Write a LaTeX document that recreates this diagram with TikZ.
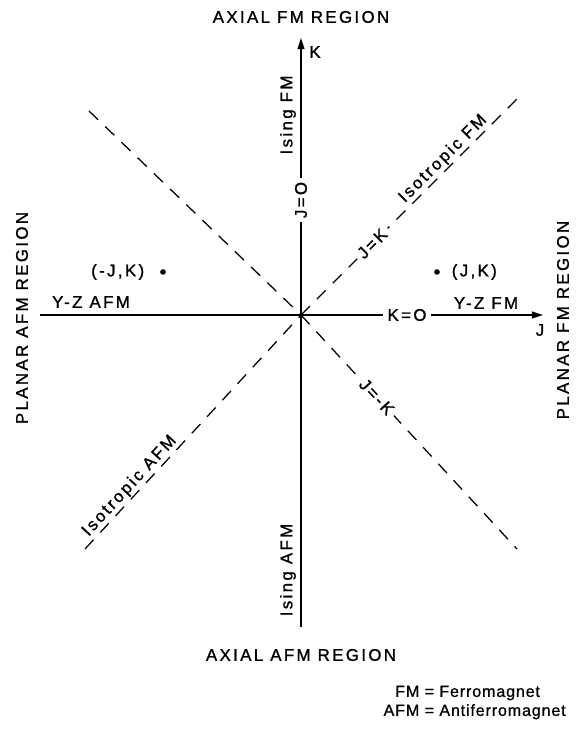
\documentclass[tikz,border=0pt]{standalone}
\usepackage{fontspec}
\setmainfont{Liberation Sans}
\newfontfamily\lettering[LetterSpace=14, FakeBold=1.2]{Liberation Sans}
\newfontfamily\legendfont[LetterSpace=5, FakeBold=0.8]{Liberation Sans}
\usetikzlibrary{arrows.meta, positioning}

\begin{document}
\begin{tikzpicture}[
  region/.style={font=\lettering\fontsize{12}{14}\selectfont},
  lbl/.style={font=\lettering\fontsize{12}{14}\selectfont, inner sep=1pt},
  gap/.style={lbl, fill=white, inner sep=3pt},
  axis/.style={draw=black, line width=1.1pt, -{Triangle[length=8pt,width=5pt]}},
  diag/.style={draw=black, line width=0.9pt, dash pattern=on 9pt off 7pt},
  pt/.style={circle, fill=black, inner sep=0pt, minimum size=4pt},
]
\useasboundingbox (-7.525,-10.75) rectangle (6.95,7.875);

% axes and diagonals
\coordinate (O)    at (0,0);
\coordinate (jneg) at (-6.525,0);
\coordinate (jend) at (6.05,0);
\coordinate (kneg) at (0,-7.8);
\coordinate (kend) at (0,6.925);
\coordinate (ne) at (5.4,5.4);
\coordinate (nw) at (-5.3,5.1);
\coordinate (se) at (5.4,-5.85);
\coordinate (sw) at (-5.4,-5.85);

\draw[diag] (O) -- (ne)
  node[pos=0.33, sloped, gap] (jeqk) {J=K}
  node[pos=0.69, sloped, above, lbl] (isofm) {Isotropic FM};
\draw[diag] (nw) -- (O);
\draw[diag] (O) -- (se)
  node[pos=0.35, sloped, gap] (jeqmk) {J=-K};
\draw[diag] (sw) -- (O)
  node[pos=0.24, sloped, above, lbl] (isoafm) {Isotropic AFM};

\draw[axis] (jneg) -- (jend);
\draw[axis] (kneg) -- (kend);
\node[gap] (keq0) at (2.65,0) {K=O};
\node[gap, rotate=90] (jeq0) at (0,2.875) {J=O};

\node[lbl] (klbl) at (0.35,6.575) {K};
\node[lbl] (jlbl) at (5.975,-0.375) {J};

\node[lbl, rotate=90] (isingfm)  at (-0.325,5.0)    {Ising FM};
\node[lbl, rotate=90] (isingafm) at (-0.325,-6.375) {Ising AFM};
\node[lbl] (yzafm) at (-5.25,0.325) {Y-Z AFM};
\node[lbl] (yzfm)  at (4.625,0.3)   {Y-Z FM};

\node[pt] (mjk) at (-3.45,1.075) {};
\node[lbl, left=0.35cm of mjk] (mjklbl) {(-J,K)};
\node[pt] (jk) at (3.4,1.075) {};
\node[lbl, right=0.25cm of jk] (jklbl) {(J,K)};

% region names
\node[region] (axfm)  at (0.0,7.45) {AXIAL FM REGION};
\node[region] (axafm) at (0.0,-8.5) {AXIAL AFM REGION};
\node[region, rotate=90] (plafm) at (-6.975,-0.075) {PLANAR AFM REGION};
\node[region, rotate=90] (plfm)  at (6.55,-0.125)   {PLANAR FM REGION};

% key
\node[anchor=east, font=\legendfont\fontsize{11.5}{13.5}\selectfont, inner sep=0pt] (key) at (6.625,-9.69)
  {\begin{tabular}{@{}r@{ = }l@{}}FM & Ferromagnet\\AFM & Antiferromagnet\end{tabular}};
\end{tikzpicture}
\end{document}
